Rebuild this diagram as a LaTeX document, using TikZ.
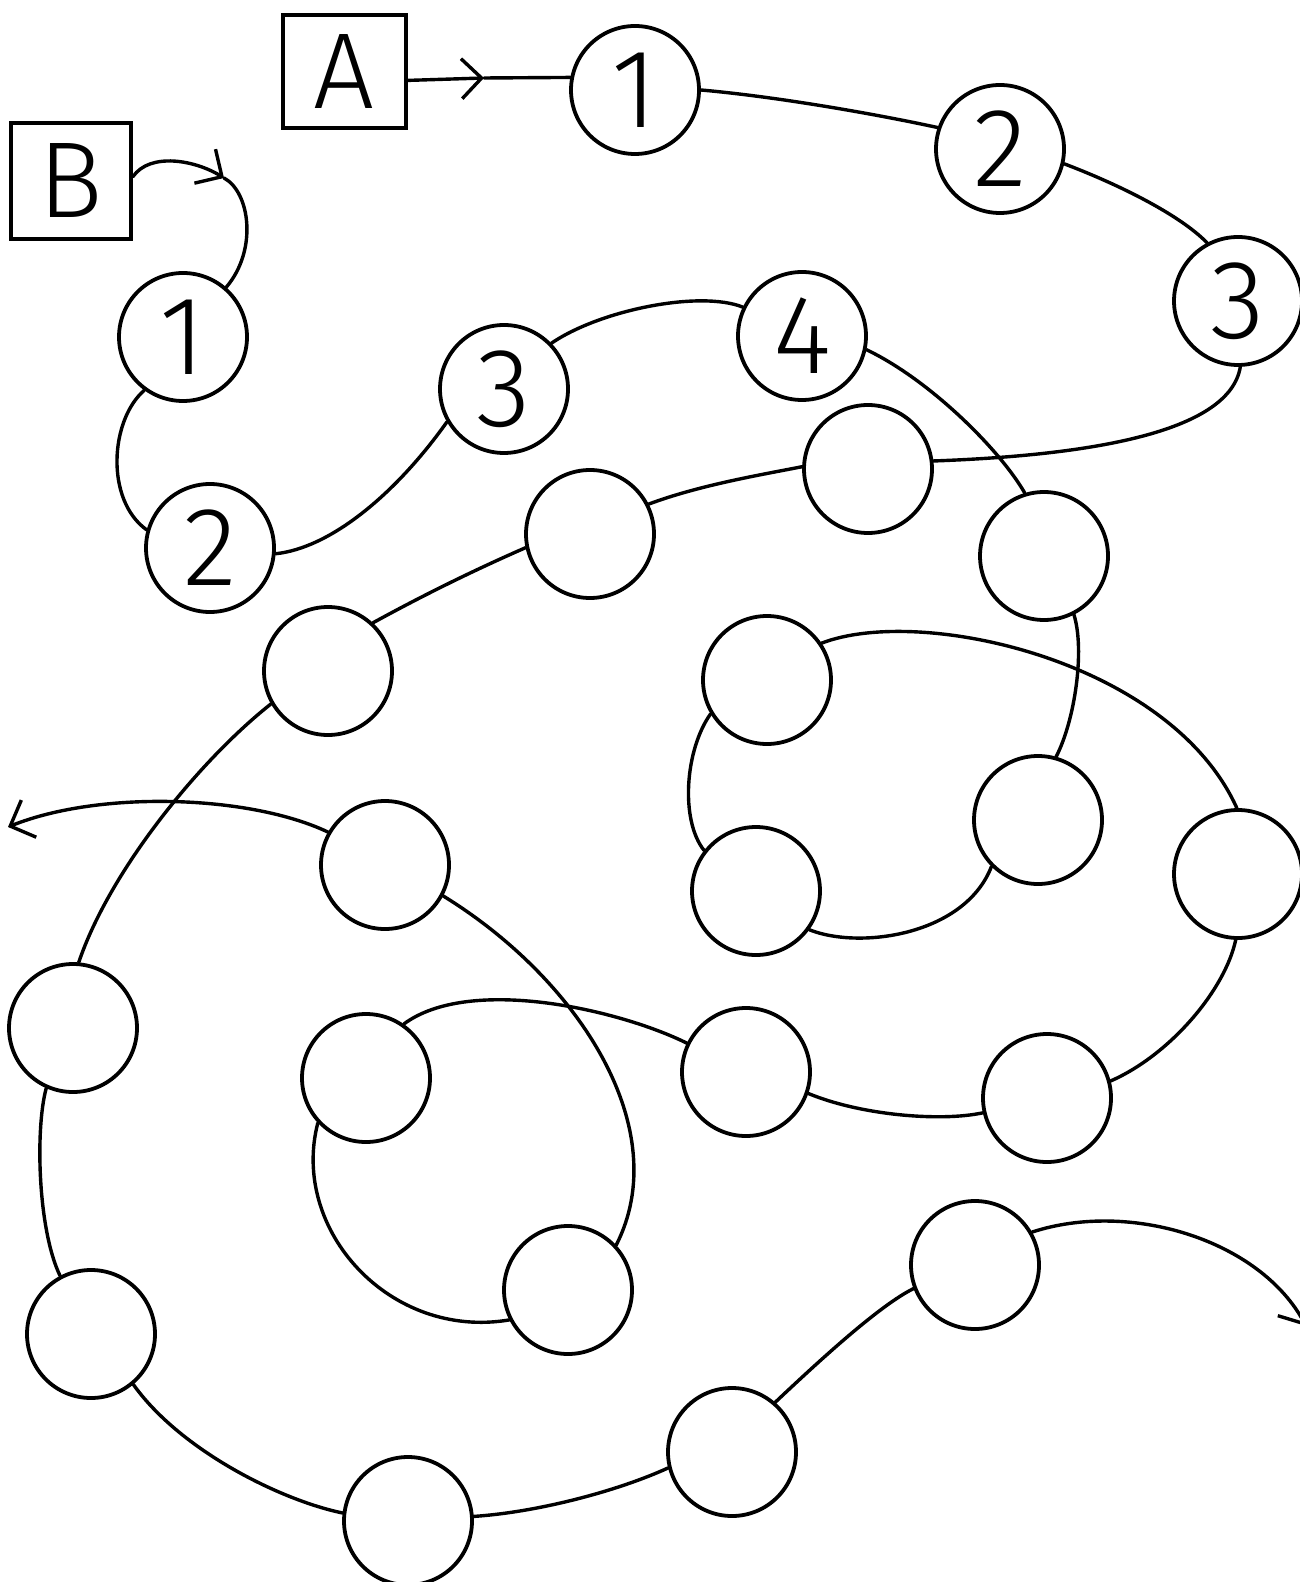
\documentclass[tikz,border=0pt]{standalone}
\usepackage{fontspec}
\newfontfamily\handfont{Fira Sans Light}
\usetikzlibrary{arrows.meta}
\begin{document}
\begin{tikzpicture}[x=0.5pt,y=-0.5pt,
  spot/.style={circle,draw,line width=1.9pt,minimum size=64pt,inner sep=0pt,
    font=\handfont\fontsize{56}{56}\selectfont},
  labelbox/.style={rectangle,draw,line width=1.9pt,inner sep=0pt,
    font=\handfont\fontsize{54}{54}\selectfont},
  route/.style={line width=1.7pt,line cap=round},
  tip/.style={-{Straight Barb[length=10pt,width=20pt,line width=1.7pt]}}
]
\useasboundingbox (0,0) rectangle (1299,1582);

% start boxes
\node[labelbox,minimum width=61.5pt,minimum height=56.5pt] (boxA) at (344.5,71.5) {A};
\node[labelbox,minimum width=60pt,minimum height=58pt] (boxB) at (71,181) {B};

% numbered circles
\node[spot] (a1) at (635,90) {1};
\node[spot] (a2) at (1000,149) {2};
\node[spot] (a3) at (1238,301) {3};
\node[spot] (b1) at (183,337) {1};
\node[spot] (b2) at (210,548) {2};
\node[spot] (b3) at (504,389) {3};
\node[spot] (b4) at (802,336) {4};

% empty circles, route A
\node[spot] (c1) at (868,469) {};
\node[spot] (c2) at (590,534) {};
\node[spot] (c3) at (328,671) {};
\node[spot] (c4) at (73,1028) {};
\node[spot] (c5) at (91,1334) {};
\node[spot] (c6) at (408,1521) {};
\node[spot] (c7) at (732,1452) {};
\node[spot] (c8) at (975,1265) {};

% empty circles, route B
\node[spot] (d1) at (1044,556) {};
\node[spot] (d2) at (1038,820) {};
\node[spot] (d3) at (756,891) {};
\node[spot] (d4) at (767,680) {};
\node[spot] (d5) at (1238,874) {};
\node[spot] (d6) at (1047,1098) {};
\node[spot] (d7) at (746,1072) {};
\node[spot] (d8) at (366,1078) {};
\node[spot] (d9) at (568,1290) {};
\node[spot] (d10) at (385,865) {};

% free ends
\coordinate (arrA) at (484,78);
\coordinate (arrB) at (224,178);
\coordinate (exitR) at (1306,1326);
\coordinate (exitL) at (8,827);

% route A
\draw[route,tip] (boxA.-8) -- (arrA);
\draw[route] (arrA) -- (a1.169);
\draw[route] (a1.0) .. controls (780,97) and (880,115) .. (a2.161);
\draw[route] (a2.-13) .. controls (1120,185) and (1180,215) .. (a3.118);
\draw[route] (a3.-88) .. controls (1230,430) and (1100,455) .. (c1.7);
\draw[route] (c1.178) .. controls (760,475) and (700,485) .. (c2.27);
\draw[route] (c2.192) .. controls (470,572) and (420,597) .. (c3.47);
\draw[route] (c3.210) .. controls (200,760) and (110,870) .. (c4.85);
\draw[route] (c4.246) .. controls (35,1130) and (38,1230) .. (c5.118);
\draw[route] (c5.-50) .. controls (180,1450) and (280,1500) .. (c6.173);
\draw[route] (c6.4) .. controls (540,1512) and (620,1490) .. (c7.194);
\draw[route] (c7.49) .. controls (820,1360) and (880,1305) .. (c8.201);
\draw[route,tip] (c8.30) .. controls (1130,1200) and (1260,1240) .. (exitR);

% route B
\draw[route,tip] (boxB.4) .. controls (150,152) and (195,160) .. (arrB);
\draw[route] (arrB) .. controls (250,192) and (258,250) .. (b1.49);
\draw[route] (b1.234) .. controls (110,420) and (105,500) .. (b2.164);
\draw[route] (b2.-5) .. controls (330,548) and (395,495) .. (b3.210);
\draw[route] (b3.44) .. controls (600,310) and (700,290) .. (b4.154);
\draw[route] (b4.-12) .. controls (930,380) and (1000,450) .. (d1.107);
\draw[route] (d1.-63) .. controls (1085,650) and (1075,720) .. (d2.74);
\draw[route] (d2.225) .. controls (965,935) and (860,950) .. (d3.-36);
\draw[route] (d3.142) .. controls (680,820) and (685,750) .. (d4.211);
\draw[route] (d4.34) .. controls (920,605) and (1170,660) .. (d5.91);
\draw[route] (d5.-92) .. controls (1225,990) and (1170,1055) .. (d6.15);
\draw[route] (d6.193) .. controls (940,1122) and (860,1115) .. (d7.-19);
\draw[route] (d7.154) .. controls (620,1010) and (470,975) .. (d8.55);
\draw[route] (d8.223) .. controls (290,1230) and (390,1340) .. (d9.207);
\draw[route] (d9.43) .. controls (675,1130) and (580,980) .. (d10.-28);
\draw[route,tip] (d10.150) .. controls (250,795) and (100,790) .. (exitL);
\end{tikzpicture}
\end{document}
